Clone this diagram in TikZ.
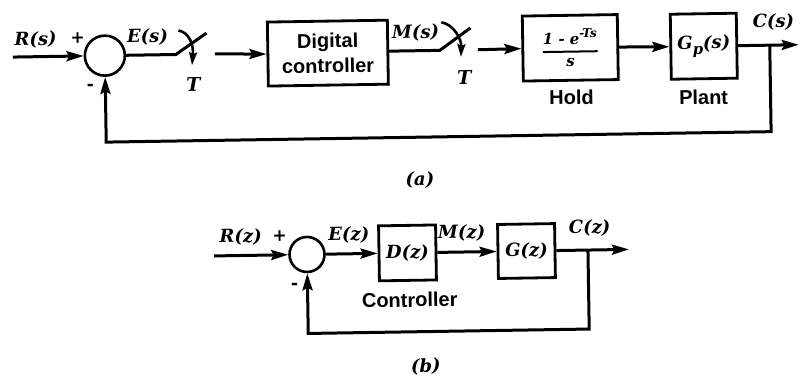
\documentclass[tikz,border=0pt]{standalone}
\usepackage{fontspec}
\setmainfont{DejaVu Serif}
\newfontfamily\sansf{Liberation Sans}
\newfontfamily\sgnf{DejaVu Sans}
\usetikzlibrary{arrows.meta}
\begin{document}
\begin{tikzpicture}[x=1pt,y=-1pt,
  line/.style={line width=3pt},
  arr/.style={line width=3pt,-{Stealth[length=17pt,width=10pt,inset=2.5pt]}},
  sarr/.style={line width=2.6pt,-{Stealth[length=13pt,width=8pt,inset=2pt]}},
  lbl/.style={font=\fontsize{18}{20}\selectfont\bfseries\itshape, inner sep=0pt},
  sgn/.style={font=\fontsize{17}{20}\selectfont\sgnf\bfseries, inner sep=0pt},
  sf/.style={font=\fontsize{20}{25}\selectfont\sansf\bfseries, inner sep=0pt, align=center},
  blk/.style={draw, line width=2.8pt, inner sep=0pt},
  sumc/.style={draw, circle, line width=2.6pt, inner sep=0pt}
]
\useasboundingbox (0,0) rectangle (802,386);
\begin{scope}[rotate around={0.9:(400,190)}, transform shape]
% ---------------- (a) ----------------
\coordinate (inA) at (15,51);
\node[sumc, minimum size=40pt] (s1) at (107,51) {};
\node[lbl] (RsL) at (38,34) {R(s)};
\node[sgn] (pA) at (80,33) {+};
\node[sgn] (mA) at (92,83) {-};
\node[lbl] (EsL) at (150,33) {E(s)};
\coordinate (sw1a) at (178,51);
\coordinate (sw1b) at (209,30);
\coordinate (arc1a) at (181,27);
\coordinate (arc1b) at (194,62);
\node[lbl, font=\fontsize{19}{20}\selectfont\bfseries\itshape] (T1) at (195,81) {T};
\coordinate (a1) at (217,51);
\node[blk, sf, minimum width=120pt, minimum height=64pt] (dc) at (330,52) {Digital\\controller};
\node[lbl] (MsL) at (418,33) {M(s)};
\coordinate (sw2a) at (442,51);
\coordinate (sw2b) at (473,29);
\coordinate (arc2a) at (444,23);
\coordinate (arc2b) at (463,58);
\node[lbl, font=\fontsize{19}{20}\selectfont\bfseries\itshape] (T2) at (466,78) {T};
\coordinate (a2) at (480,51);
\node[blk, minimum width=95pt, minimum height=65pt, font=\fontsize{15}{18}\selectfont\bfseries\itshape] (hold) at (572.5,50.5)
  {$\displaystyle{\hbox{1 - e}^{\hbox{\fontsize{12}{12}\selectfont\bfseries\itshape -Ts}}\above 2pt \hbox{s}}$};
\node[sf] (holdL) at (573,100) {Hold};
\node[blk, lbl, minimum width=66pt, minimum height=65pt] (plant) at (706,51)
  {G\raisebox{-5pt}{\fontsize{15}{15}\selectfont p}(s)};
\node[sf] (plantL) at (705,102) {Plant};
\node[lbl] (CsL) at (776,28) {C(s)};
\coordinate (brA) at (772,51);
\coordinate (outA) at (801,51);
\coordinate (fbA) at (772,137.5);
\node[lbl] (aL) at (420,180) {(a)};

\draw[arr] (inA) -- (s1.west);
\draw[line] (s1.east) -- (sw1a) -- (sw1b);
\draw[sarr] (arc1a) .. controls (192,29) and (196,42) .. (arc1b);
\draw[arr] (a1) -- (dc.west);
\draw[line] (dc.east |- sw2a) -- (sw2a) -- (sw2b);
\draw[sarr] (arc2a) .. controls (456,25) and (464,40) .. (arc2b);
\draw[arr] (a2) -- (hold.west);
\draw[arr] (hold.east) -- (plant.west);
\draw[arr] (plant.east) -- (outA);
\draw[arr] (brA) -- (fbA) -| (s1.south);

% ---------------- (b) ----------------
\coordinate (inB) at (213,253);
\node[sumc, minimum size=35pt] (s2) at (306,253) {};
\node[lbl] (RzL) at (240,234.5) {R(z)};
\node[sgn] (pB) at (279,234) {+};
\node[sgn] (mB) at (293,285) {-};
\node[lbl] (EzL) at (348,234) {E(z)};
\node[blk, lbl, minimum width=57pt, minimum height=55pt] (dz) at (406.5,253) {D(z)};
\node[sf] (ctrlL) at (408,300) {Controller};
\node[lbl] (MzL) at (461,234) {M(z)};
\node[blk, lbl, minimum width=57pt, minimum height=54pt] (gz) at (525.5,253) {G(z)};
\node[lbl] (CzL) at (589,231) {C(z)};
\coordinate (brB) at (587,253);
\coordinate (outB) at (628,253);
\coordinate (fbB) at (587,332);
\node[lbl] (bL) at (423,367) {(b)};

\draw[arr] (inB) -- (s2.west);
\draw[arr] (s2.east) -- (dz.west);
\draw[arr] (dz.east) -- (gz.west);
\draw[arr] (gz.east) -- (outB);
\draw[arr] (brB) -- (fbB) -| (s2.south);
\end{scope}
\end{tikzpicture}
\end{document}
